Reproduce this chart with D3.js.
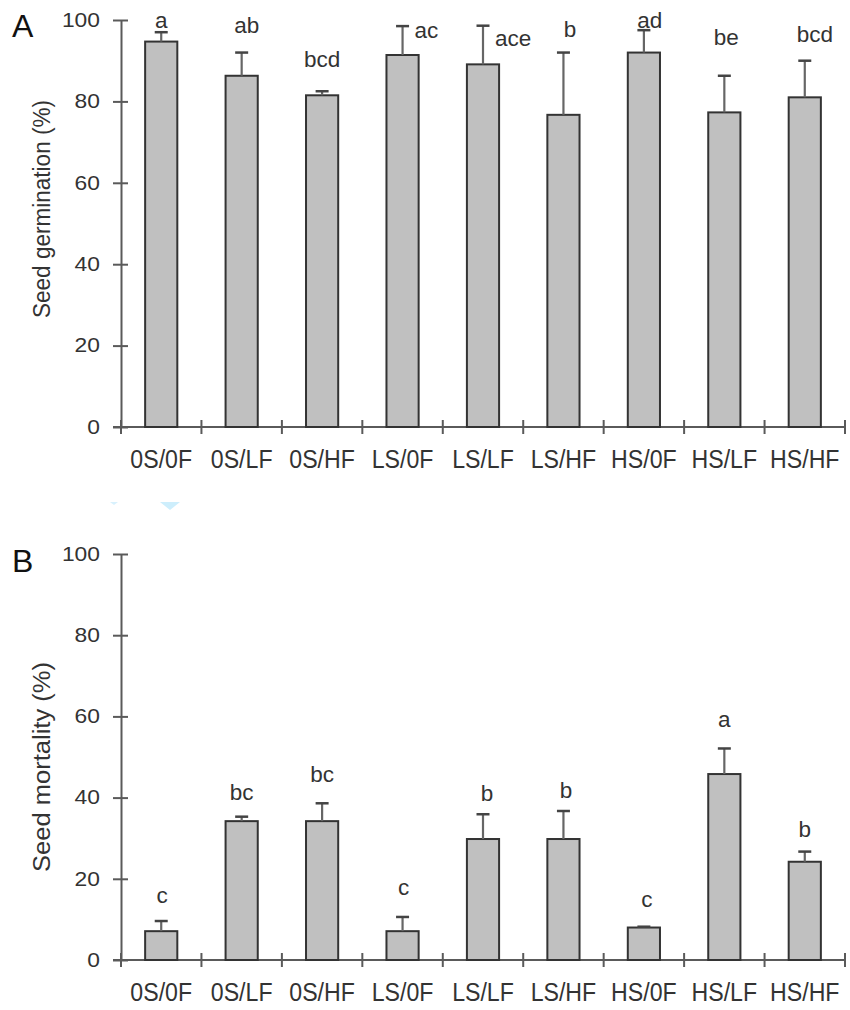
<!DOCTYPE html>
<html>
<head>
<meta charset="utf-8">
<script src="https://cdn.jsdelivr.net/npm/d3@7"></script>
<style>
  html, body { margin: 0; padding: 0; background: #fff; }
  svg { display: block; font-family: Arial, "Liberation Sans", sans-serif; }
</style>
</head>
<body>
<svg id="chart" width="850" height="1010"></svg>
<script>
// ---------------- data ----------------
const categories = ["0S/0F", "0S/LF", "0S/HF", "LS/0F", "LS/LF", "LS/HF", "HS/0F", "HS/LF", "HS/HF"];
const yTicks = [0, 20, 40, 60, 80, 100];

const germinationMean = [94.7, 86.3, 81.5, 91.4, 89.1, 76.7, 92.0, 77.3, 81.0];
const germinationSE   = [2.3, 5.7, 1.0, 7.1, 9.5, 15.3, 5.5, 9.0, 9.0];
const germinationLetters = ["a", "ab", "bcd", "ac", "ace", "b", "ad", "be", "bcd"];

const mortalityMean = [7.1, 34.2, 34.2, 7.1, 29.8, 29.8, 8.0, 45.8, 24.2];
const mortalitySE   = [2.5, 1.1, 4.4, 3.5, 6.1, 6.9, 0.2, 6.3, 2.5];
const mortalityLetters = ["c", "bc", "bc", "c", "b", "b", "c", "a", "b"];

// label placement (pixel offsets from bar centre / error-bar top)
const germLabelDx = [0, 5, 0, 12, 12, 6.5, 6, 2, 10];
const germLabelAnchor = ["middle", "middle", "middle", "start", "start", "middle", "middle", "middle", "middle"];
const germLabelDy = [-4, -20, -24, 12, 20, -16, -2, -31, -19];
const mortLabelDx = [1, 0, 0, 1, 4, 2.5, 3, 0, 0];
const mortLabelDy = [-18, -17, -21, -22, -13, -13, -19.5, -21, -15];

// ---------------- layout ----------------
const svg = d3.select("#chart");
const textColor = "#333";
const axisColor = "#5a5a5a";

const x = d3.scaleBand().domain(categories).range([121, 845]).paddingInner(0).paddingOuter(0);
const barW = x.bandwidth() * 0.4;

function stretchText(sel, factor) {
  sel.each(function() {
    const len = this.getComputedTextLength();
    d3.select(this).attr("textLength", len * factor).attr("lengthAdjust", "spacingAndGlyphs");
  });
}

function panel(opts) {
  const y = d3.scaleLinear().domain([0, 100]).range([opts.y0, opts.y100]);
  const g = svg.append("g");

  // panel letter
  g.append("text").attr("x", 12).attr("y", opts.letterY)
    .attr("font-size", 32).attr("fill", "#111").text(opts.letter);

  // y-axis title
  g.append("text")
    .attr("transform", `translate(50,${opts.titleY}) rotate(-90)`)
    .attr("text-anchor", "middle").attr("font-size", 23).attr("fill", textColor)
    .attr("textLength", opts.titleLen).attr("lengthAdjust", "spacingAndGlyphs")
    .text(opts.title);

  // y axis
  const yAxis = d3.axisLeft(y).tickValues(yTicks).tickSizeInner(8).tickSizeOuter(0).tickPadding(13)
    .tickFormat(d3.format("d"));
  const ya = g.append("g").attr("transform", "translate(121,0)").call(yAxis);
  ya.select(".domain").attr("stroke", axisColor).attr("stroke-width", 2);
  ya.selectAll(".tick line").attr("x1", 7).attr("stroke", axisColor).attr("stroke-width", 2);
  const ytxt = ya.selectAll(".tick text").attr("font-size", 19.5).attr("fill", textColor)
    .attr("font-family", "Arial, 'Liberation Sans', sans-serif");
  stretchText(ytxt, 1.17);

  // x axis line
  const xa = g.append("g");
  xa.append("line").attr("x1", x.range()[0] - 8).attr("x2", x.range()[1])
    .attr("y1", y(0)).attr("y2", y(0)).attr("stroke", axisColor).attr("stroke-width", 2);
  const bounds = categories.map(c => x(c)).concat([x.range()[1]]);
  xa.selectAll("line.xt").data(bounds).join("line").attr("class", "xt")
    .attr("x1", d => d).attr("x2", d => d)
    .attr("y1", y(0) - 7).attr("y2", y(0) + 7)
    .attr("stroke", axisColor).attr("stroke-width", 2);
  const xl = xa.selectAll("text.xl").data(categories).join("text").attr("class", "xl")
    .attr("x", d => x(d) + x.bandwidth() / 2).attr("y", opts.xLabelY)
    .attr("text-anchor", "middle").attr("font-size", 26).attr("fill", textColor)
    .text(d => d);
  stretchText(xl, 0.89);

  // bars
  g.selectAll("rect.bar").data(opts.mean).join("rect").attr("class", "bar")
    .attr("x", (d, i) => x(categories[i]) + x.bandwidth() / 2 - barW / 2)
    .attr("width", barW)
    .attr("y", d => y(d)).attr("height", d => y(0) - y(d))
    .attr("fill", "#c0c0c0").attr("stroke", "#333").attr("stroke-width", 2);

  // error bars
  const eb = g.selectAll("g.err").data(opts.mean).join("g").attr("class", "err");
  eb.append("line")
    .attr("x1", (d, i) => x(categories[i]) + x.bandwidth() / 2)
    .attr("x2", (d, i) => x(categories[i]) + x.bandwidth() / 2)
    .attr("y1", d => y(d)).attr("y2", (d, i) => y(d + opts.se[i]))
    .attr("stroke", "#666").attr("stroke-width", 2.2);
  eb.append("line")
    .attr("x1", (d, i) => x(categories[i]) + x.bandwidth() / 2 - 6.5)
    .attr("x2", (d, i) => x(categories[i]) + x.bandwidth() / 2 + 6.5)
    .attr("y1", (d, i) => y(d + opts.se[i])).attr("y2", (d, i) => y(d + opts.se[i]))
    .attr("stroke", "#444").attr("stroke-width", 2.5);

  // significance letters
  g.selectAll("text.sig").data(opts.letters).join("text").attr("class", "sig")
    .attr("x", (d, i) => x(categories[i]) + x.bandwidth() / 2 + opts.dx[i])
    .attr("y", (d, i) => y(opts.mean[i] + opts.se[i]) + opts.dy[i])
    .attr("text-anchor", (d, i) => opts.anchor ? opts.anchor[i] : "middle")
    .attr("font-size", 22.5).attr("fill", textColor)
    .text(d => d);
}

panel({
  letter: "A", letterY: 37, y0: 427, y100: 20,
  title: "Seed germination (%)", titleY: 209, titleLen: 218,
  xLabelY: 468,
  mean: germinationMean, se: germinationSE, letters: germinationLetters,
  dx: germLabelDx, dy: germLabelDy, anchor: germLabelAnchor
});

panel({
  letter: "B", letterY: 572, y0: 960, y100: 554,
  title: "Seed mortality (%)", titleY: 767, titleLen: 210,
  xLabelY: 1001,
  mean: mortalityMean, se: mortalitySE, letters: mortalityLetters,
  dx: mortLabelDx, dy: mortLabelDy
});

// faint scanning artefact (light blue marks between panels)
svg.append("path").attr("d", "M110,502 L118,502 L114,505 Z").attr("fill", "#d8f1fd");
svg.append("path").attr("d", "M160,502 L180,502 L170,510 Z").attr("fill", "#cdeefc");
</script>
</body>
</html>
